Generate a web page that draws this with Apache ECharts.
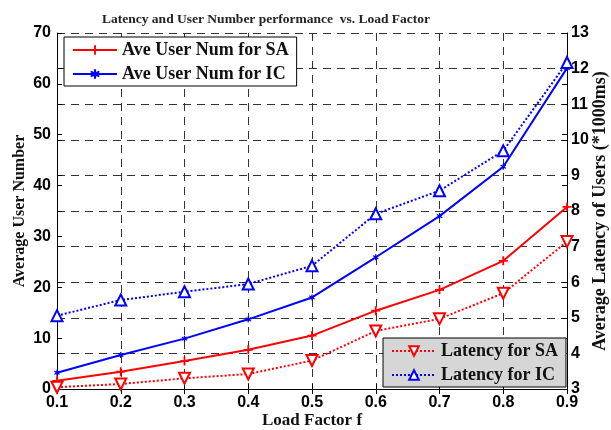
<!DOCTYPE html>
<html><head><meta charset="utf-8">
<script src="https://cdn.jsdelivr.net/npm/echarts@6/dist/echarts.min.js"></script>
<style>html,body{margin:0;padding:0;background:#fff}#c{width:611px;height:430px}</style>
</head><body><div id="c"></div>
<script>
var loadFactors = ['0.1','0.2','0.3','0.4','0.5','0.6','0.7','0.8','0.9'];
var userNumSA = [1.6, 3.4, 5.5, 7.7, 10.5, 15.4, 19.5, 25.2, 35.8];
var userNumIC = [3.2, 6.7, 9.9, 13.7, 18.0, 25.9, 34.0, 43.7, 63.1];
var latencySA = [3.05, 3.14, 3.30, 3.42, 3.80, 4.63, 4.97, 5.69, 7.14];
var latencyIC = [5.06, 5.50, 5.73, 5.95, 6.46, 7.92, 8.57, 9.69, 12.17];

var serif = 'Liberation Serif';
var sans = 'Liberation Sans';
var plusPath = 'path://M4,0H6V4H10V6H6V10H4V6H0V4H4Z';
var starPath = 'path://M4,0H6V3L8.5,1.5L9.5,3L7,5L9.5,7L8.5,8.5L6,7V10H4V7L1.5,8.5L0.5,7L3,5L0.5,3L1.5,1.5L4,3Z';
var tickLabel = {color:'#000', fontFamily: sans, fontWeight:'bold', fontSize:16};
var chart = echarts.init(document.getElementById('c'));
chart.setOption({
  animation:false,
  title:{text:'Latency and User Number performance  vs. Load Factor', left:97, top:8,
    textStyle:{fontFamily:serif, fontWeight:'bold', fontSize:13.5, color:'#222'}},
  grid:{left:57, right:44, top:33, bottom:41, outerBoundsMode:'none', containLabel:false},
  legend:[
    {data:['Ave User Num for SA','Ave User Num for IC'], orient:'vertical', left:64, top:37,
     backgroundColor:'#fff', borderColor:'#000', borderWidth:1, padding:[4,8,3,8], itemGap:6,
     itemWidth:44, itemHeight:12,
     textStyle:{fontFamily:serif, fontWeight:'bold', fontSize:18, color:'#111'}},
    {data:['Latency for SA','Latency for IC'], orient:'vertical', left:383, top:338,
     backgroundColor:'#d6d6d6', borderColor:'#000', borderWidth:1, padding:[4,8,3,8], itemGap:6,
     itemWidth:44, itemHeight:12,
     textStyle:{fontFamily:serif, fontWeight:'bold', fontSize:18, color:'#111'}}
  ],
  xAxis:[
    {type:'category', data:loadFactors, boundaryGap:false, position:'bottom',
     name:'Load Factor f', nameLocation:'middle', nameGap:23, nameMoveOverlap:false,
     nameTextStyle:{fontFamily:serif, fontWeight:'bold', fontSize:17, color:'#111'},
     axisLine:{lineStyle:{color:'#000', width:1}},
     axisTick:{inside:true, length:5, lineStyle:{color:'#000'}},
     axisLabel:Object.assign({margin:6}, tickLabel),
     splitLine:{show:true, lineStyle:{color:'#333', type:[8,6], width:1}}},
    {type:'category', data:loadFactors, boundaryGap:false, position:'top',
     axisLine:{lineStyle:{color:'#000', width:1}},
     axisTick:{inside:true, length:5, lineStyle:{color:'#000'}},
     axisLabel:{show:false}, splitLine:{show:false}}
  ],
  yAxis:[
    {type:'value', min:0, max:70, interval:10, position:'left',
     name:'Average User Number', nameLocation:'middle', nameGap:29, nameRotate:90, nameMoveOverlap:false,
     nameTextStyle:{fontFamily:serif, fontWeight:'bold', fontSize:16, color:'#111'},
     axisLine:{show:true, lineStyle:{color:'#000'}},
     axisTick:{show:true, inside:true, length:5, lineStyle:{color:'#000'}},
     axisLabel:Object.assign({margin:6}, tickLabel), splitLine:{show:false}},
    {type:'value', min:3, max:13, interval:1, position:'right',
     name:'Average Latency of Users (*1000ms)', nameLocation:'middle', nameGap:24, nameRotate:90, nameMoveOverlap:false,
     nameTextStyle:{fontFamily:serif, fontWeight:'bold', fontSize:18, color:'#111'},
     axisLine:{show:true, lineStyle:{color:'#000'}},
     axisTick:{show:true, inside:true, length:5, lineStyle:{color:'#000'}},
     axisLabel:Object.assign({margin:4}, tickLabel),
     splitLine:{show:true, lineStyle:{color:'#333', type:[8,6], width:1}}},
    {type:'value', min:3, max:13, interval:1, position:'left',
     axisLine:{show:false}, axisTick:{show:true, inside:true, length:5, lineStyle:{color:'#000'}},
     axisLabel:{show:false}, splitLine:{show:false}},
    {type:'value', min:0, max:70, interval:10, position:'right',
     axisLine:{show:false}, axisTick:{show:true, inside:true, length:5, lineStyle:{color:'#000'}},
     axisLabel:{show:false}, splitLine:{show:false}}
  ],
  series:[
    {name:'Ave User Num for SA', type:'line', yAxisIndex:0, data:userNumSA,
     lineStyle:{color:'#ff0000', width:2}, itemStyle:{color:'#ff0000'},
     symbol:plusPath, symbolSize:9, showAllSymbol:true},
    {name:'Ave User Num for IC', type:'line', yAxisIndex:0, data:userNumIC,
     lineStyle:{color:'#0000ff', width:2}, itemStyle:{color:'#0000ff'},
     symbol:starPath, symbolSize:6, showAllSymbol:true},
    {name:'Latency for SA', type:'line', yAxisIndex:1, data:latencySA,
     lineStyle:{color:'#ff0000', width:2, type:[2,2]}, itemStyle:{color:'#ff0000', borderColor:'#ff0000', borderWidth:1.5},
     symbol:'emptyTriangle', symbolRotate:180, symbolSize:11, showAllSymbol:true},
    {name:'Latency for IC', type:'line', yAxisIndex:1, data:latencyIC,
     lineStyle:{color:'#0000ff', width:2, type:[2,2]}, itemStyle:{color:'#0000ff', borderColor:'#0000ff', borderWidth:1.5},
     symbol:'emptyTriangle', symbolSize:11, showAllSymbol:true}
  ]
});
</script></body></html>
